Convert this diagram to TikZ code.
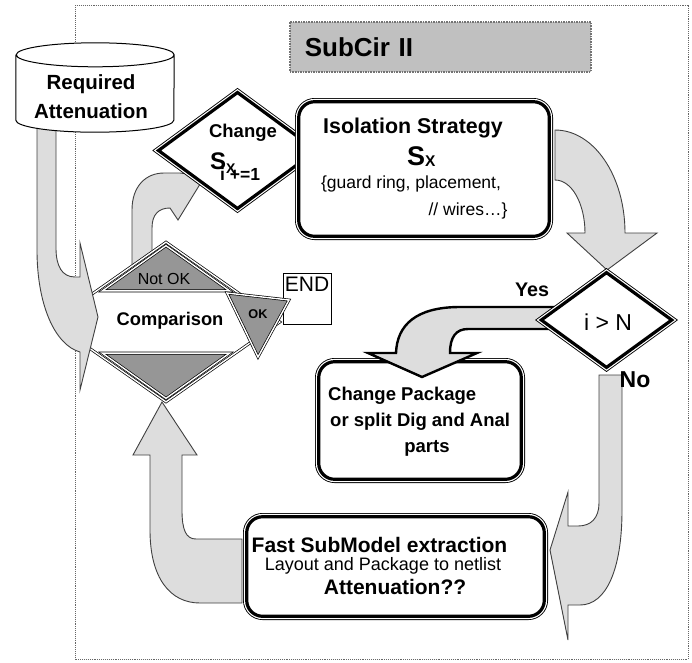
\documentclass[tikz,border=0pt]{standalone}
\usepackage{fontspec}
\setmainfont{Liberation Sans}
\usetikzlibrary{shapes.geometric,calc}
\definecolor{lgray}{RGB}{221,221,221}
\definecolor{dgray}{RGB}{150,150,150}
\definecolor{tgray}{RGB}{192,192,192}
\begin{document}
\begin{tikzpicture}[x=1pt, y=-1pt, line join=miter,
  thickthin/.style={fill=white, draw=black, line width=3.2pt,
    preaction={draw=black, line width=7.4pt},
    preaction={draw=white, line width=5.6pt}},
  roundbox/.style={thickthin, rectangle, rounded corners=16pt, inner sep=0pt, outer sep=0pt},
  decision/.style={thickthin, diamond, inner sep=0pt, outer sep=0pt},
  dbl/.style={draw=black, double=white, double distance=1.4pt, line width=0.7pt},
  tri/.style={dbl, fill=dgray},
  blk/.style={fill=lgray, draw=black!75, line width=0.9pt},
  yesblk/.style={fill=lgray, draw=black, line width=2.4pt},
  bf/.style={font=\bfseries\fontsize{#1}{#1}\selectfont},
  rm/.style={font=\fontsize{#1}{#1}\selectfont}]
  \useasboundingbox (0,0) rectangle (692,662);
  % frame and title
  \draw[densely dotted, draw=black!60, line width=0.9pt] (75,5) rectangle (688,659);
  \node[fill=tgray, draw=black!55, densely dotted, line width=1.6pt, minimum height=50,
    text width=271pt, inner xsep=15pt, align=left, bf=26, anchor=north west] (title) at (289,21) {SubCir II};
  % arrows under the comparison
  \draw[blk] (132,275) -- (132,210) .. controls (132,186) and (146,173) .. (164,173) -- (180,173)
    -- (205,176) -- (178,220) -- (170,208) .. controls (159,208) and (152,214) .. (152,228) -- (152,275) -- cycle;
  \draw[blk] (242,603) -- (200,603) .. controls (170,603) and (150,578) .. (150,530) -- (150,455)
    -- (133,455) -- (162,402) -- (197,455) -- (182,455) -- (182,510)
    .. controls (182,530) and (186,539) .. (196,539) -- (242,539) -- cycle;
  % comparison
  \node[diamond, dbl, fill=white, minimum width=228, minimum height=160, inner sep=0pt] (cmp) at (166,322) {};
  \draw[tri] ($(cmp.north)+(0,4)$) -- ($(cmp.north)!.6!(cmp.west)+(5,1)$) -- ($(cmp.north)!.6!(cmp.east)+(-5,1)$) -- cycle;
  \draw[tri] ($(cmp.south)+(0,-4)$) -- ($(cmp.south)!.6!(cmp.west)+(5,-1)$) -- ($(cmp.south)!.6!(cmp.east)+(-5,-1)$) -- cycle;
  \node[rm=16] (notok) at (164,279) {Not OK};
  \node[bf=18.3] (cmpT) at (170,321) {Comparison};
  \node[draw, line width=0.8pt, fill=white, minimum width=48, minimum height=51, inner sep=0pt,
    label={[rm=21, anchor=north, inner sep=0pt, yshift=-4pt]north:END}] (end) at (307,298.5) {};
  \draw[tri] (227,293) -- (289,300) -- (258,357) -- cycle;
  \node[bf=12.7] (ok) at (258,314) {OK};
  % required attenuation
  \draw[blk] (37,122) -- (37,250) .. controls (37,305) and (55,345) .. (80,352) -- (80,390) -- (98,317)
    -- (80,243) -- (80,277) -- (75,277) .. controls (62,277) and (56,266) .. (56,248) -- (56,122) -- cycle;
  \node[minimum width=158, minimum height=89, inner sep=0pt] (req) at (95,87.5) {};
  \draw[fill=white, line width=1pt] ($(req.north west)+(0,12)$) -- ($(req.south west)+(0,-12)$)
    arc[start angle=180, end angle=360, x radius=79pt, y radius=12pt] -- ($(req.north east)+(0,12)$)
    arc[start angle=0, end angle=180, x radius=79pt, y radius=12pt]
    arc[start angle=180, end angle=360, x radius=79pt, y radius=12pt];
  \node[bf=20.5, align=center] (reqT) at (91,97) {Required\\[8.5pt]Attenuation};
  % change S_x
  \node[decision, minimum width=158, minimum height=116] (chg) at (237.5,150.5) {};
  \node[bf=18.5] (chgT) at (243,133) {Change};
  \node[anchor=base west, inner sep=0pt] (chgS) at (210,169)
    {\bfseries\fontsize{24}{24}\selectfont S\raisebox{-4pt}{\fontsize{14}{14}\selectfont X}};
  \node[bf=17.5, anchor=base west, inner sep=0pt] (chgI) at (220,180) {i +=1};
  % isolation strategy
  \node[roundbox, minimum width=250.6, minimum height=134.6] (iso) at (424,169) {};
  \node[bf=21.4] (isoT) at (413,128) {Isolation Strategy};
  \node[anchor=base west, inner sep=0pt] (isoS) at (407,165)
    {\bfseries\fontsize{27}{27}\selectfont S\raisebox{-1.5pt}{\fontsize{15.5}{15.5}\selectfont X}};
  \node[rm=17.5] (isoG) at (411,184) {\{guard ring, placement,};
  \node[rm=17.5] (isoW) at (468,211) {// wires…\}};
  \draw[blk] (555,130) .. controls (594,130) and (625,176) .. (625,233) -- (657,233) -- (607,270)
    -- (567,233) -- (585,233) .. controls (585,204) and (572,180) .. (555,180) -- cycle;
  % change package
  \node[roundbox, minimum width=202.6, minimum height=117.6] (cpk) at (420,420.5) {};
  \node[bf=18.5, anchor=west, inner sep=0pt] (cpk1) at (328,396) {Change Package};
  \node[bf=18.5, anchor=west, inner sep=0pt] (cpk2) at (330,422) {or split Dig and Anal};
  \node[bf=18.5] (cpk3) at (427,448) {parts};
  \draw[yesblk] (565,307) -- (460,307) .. controls (416,307) and (397,325) .. (396,353) -- (368,353)
    -- (422,377) -- (477,353) -- (450,353) .. controls (450,337) and (456,329) .. (468,329) -- (565,329) -- cycle;
  % fast submodel
  \node[roundbox, minimum width=297.6, minimum height=99.6] (fast) at (395.5,566.5) {};
  \node[bf=21] (fast1) at (379.5,545) {Fast SubModel extraction};
  \node[rm=18] (fast2) at (383,566) {Layout and Package to netlist};
  \node[bf=21] (fast3) at (395,587) {Attenuation??};
  \draw[blk] (599,375) -- (599,503) .. controls (599,518) and (591,526) .. (578,526) -- (568,526)
    -- (568,492) -- (550,550) -- (568,640) -- (568,605) -- (580,605)
    .. controls (606,605) and (622,570) .. (622,510) -- (622,375) -- cycle;
  % i > N
  \node[decision, minimum width=130.4, minimum height=94.8] (ngt) at (606.5,320) {};
  \node[rm=23] (ngtT) at (608,322) {i > N};
  \node[bf=19.7] (yes) at (532,290) {Yes};
  \node[bf=23] (no) at (635,380) {No};
\end{tikzpicture}
\end{document}
